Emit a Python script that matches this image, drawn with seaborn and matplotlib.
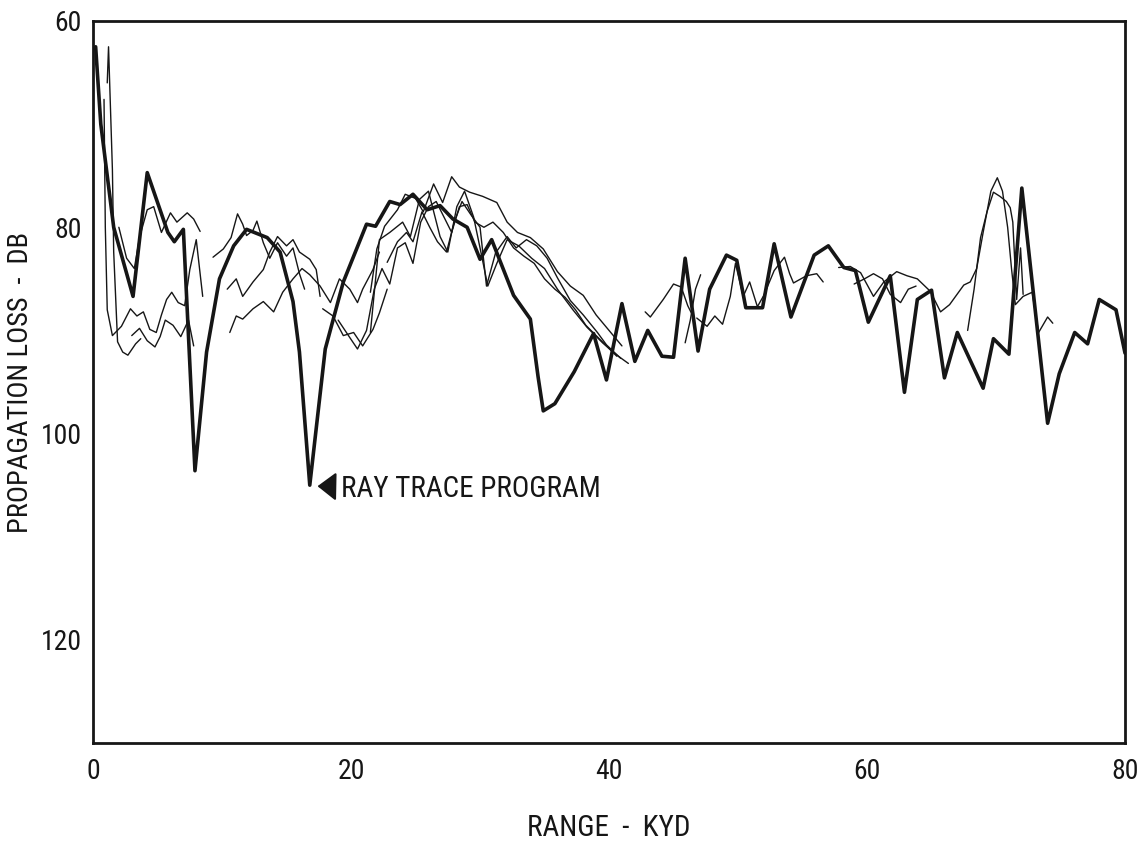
import numpy as np
import pandas as pd
import matplotlib
matplotlib.use("Agg")
import matplotlib.pyplot as plt
import seaborn as sns

# ray trace program (heavy line)
ray_x = [0.2, 0.6, 0.9, 1.6, 3.1, 4.2, 5.8, 6.3, 7.0, 7.9, 8.8, 9.8, 10.9, 11.9, 13.5,
         14.5, 15.5, 16.0, 16.8, 18.0, 19.4, 21.2, 21.9, 23.0, 23.8, 24.8, 25.9, 26.9,
         27.9, 29.0, 30.0, 30.9, 32.6, 33.9, 34.5, 34.9, 35.8, 37.3, 38.8, 39.8, 41.0,
         42.0, 43.0, 44.1, 45.0, 45.9, 46.9, 47.8, 49.1, 49.9, 50.6, 51.9, 52.8, 54.1,
         55.9, 57.0, 58.2, 59.1, 60.1, 61.8, 62.9, 63.9, 65.0, 66.0, 67.0, 69.0, 69.8,
         71.0, 72.0, 74.0, 74.9, 76.1, 77.1, 78.0, 79.3, 80.0]
ray_db = [62.5, 70.0, 73.0, 80.0, 86.7, 74.7, 80.5, 81.4, 80.2, 103.6, 92.1, 85.0, 81.8,
          80.2, 81.0, 82.4, 87.2, 92.1, 105.0, 91.8, 85.3, 79.7, 79.9, 77.5, 77.8, 76.8,
          78.3, 77.9, 79.2, 80.0, 83.1, 81.2, 86.6, 88.9, 94.5, 97.8, 97.1, 94.0, 90.3,
          94.8, 87.4, 93.0, 90.0, 92.5, 92.6, 83.0, 92.0, 86.0, 82.7, 83.2, 87.8, 87.8,
          81.6, 88.7, 82.7, 81.8, 83.9, 84.2, 89.2, 84.7, 96.0, 87.0, 86.1, 94.6, 90.2,
          95.6, 90.8, 92.3, 76.2, 99.0, 94.2, 90.2, 91.3, 87.0, 88.0, 92.2]

# measured runs (light lines), traced piece by piece
seg1_x = [1.1, 1.2, 1.5, 1.6, 1.9, 2.3, 2.7, 3.3, 3.7]
seg1_db = [66.0, 62.5, 74.4, 82.4, 91.1, 92.1, 92.4, 91.3, 90.8]
seg2_x = [0.85, 0.95, 1.1, 1.5, 2.2, 2.9, 3.4, 3.9, 4.4, 4.9, 5.3, 5.7, 6.1, 6.6, 7.1,
          7.5, 8.0, 8.5]
seg2_db = [67.6, 80.0, 88.0, 90.5, 89.6, 87.9, 88.6, 88.2, 89.9, 90.2, 88.5, 87.0, 86.3,
           87.3, 87.6, 84.1, 81.2, 86.7]
seg3_x = [2.0, 2.6, 3.2, 3.6, 4.2, 4.7, 5.3, 6.0, 6.5, 7.3, 7.8, 8.3]
seg3_db = [80.0, 83.0, 84.0, 81.0, 78.3, 78.0, 80.5, 78.6, 79.5, 78.6, 79.2, 80.4]
seg4_x = [3.0, 3.6, 4.2, 4.8, 5.2, 5.6, 6.2, 6.8, 7.4, 7.8]
seg4_db = [90.5, 89.8, 91.0, 91.6, 90.6, 89.0, 89.5, 90.6, 89.0, 91.5]
seg5_x = [9.3, 10.1, 10.7, 11.2, 11.6, 11.9, 12.4, 12.7, 13.2, 13.7, 14.3, 15.0, 15.5,
          16.0, 16.4]
seg5_db = [82.9, 82.1, 81.0, 78.7, 79.7, 80.8, 80.3, 79.4, 81.5, 83.0, 81.5, 82.8, 82.0,
           84.5, 86.0]
seg6_x = [10.4, 11.1, 11.6, 12.4, 13.2, 13.7, 14.3, 15.0, 15.5, 16.0, 16.8, 17.3, 17.6]
seg6_db = [86.0, 85.0, 86.7, 85.3, 84.1, 82.4, 80.9, 81.8, 81.2, 82.4, 83.1, 84.1, 86.7]
seg7_x = [10.6, 11.1, 11.6, 12.4, 13.2, 14.0, 14.7, 15.5, 16.2, 16.8, 17.6, 18.4, 19.1,
          19.9, 20.5, 20.9, 21.7, 22.2]
seg7_db = [90.2, 88.6, 88.9, 87.9, 87.2, 88.2, 86.3, 85.0, 84.0, 84.6, 85.7, 87.3, 85.0,
           86.0, 87.3, 86.0, 84.1, 82.4]
seg8_x = [17.8, 18.6, 19.4, 20.2, 20.9, 21.7, 22.2, 22.8]
seg8_db = [87.9, 88.6, 90.5, 90.2, 91.5, 89.9, 88.3, 86.0]
hump1_x = [21.5, 22.0, 22.6, 23.6, 24.2, 25.0, 25.6, 26.4, 27.1, 27.8, 28.4, 29.2, 30.2,
           31.3, 32.1, 32.9, 33.9, 34.9, 36.0, 37.0, 38.0, 39.0, 40.0, 41.0]
hump1_db = [86.3, 82.1, 79.9, 78.3, 76.8, 77.2, 78.5, 75.8, 77.6, 75.1, 76.1, 76.6, 77.0,
            77.6, 79.5, 80.5, 81.0, 82.1, 84.3, 85.7, 86.6, 88.5, 90.0, 91.5]
hump2_x = [22.8, 23.6, 24.3, 24.8, 25.5, 26.1, 26.7, 27.4, 28.0, 28.6, 29.3, 30.0, 30.5,
           31.2, 32.1, 32.8, 33.6, 34.4, 35.2, 36.0, 37.0, 38.0, 39.1, 39.8, 40.9]
hump2_db = [83.4, 81.4, 80.5, 81.4, 78.5, 80.0, 81.4, 82.4, 79.5, 77.5, 78.8, 80.0, 85.7,
            82.5, 80.9, 82.0, 81.2, 81.8, 83.0, 84.9, 87.1, 88.5, 90.2, 91.4, 92.7]
hump3_x = [21.5, 22.2, 23.0, 24.0, 24.6, 25.3, 26.0, 26.9, 27.5, 28.2, 28.8, 29.5, 30.0,
           30.6, 31.3, 32.1, 33.0, 34.0, 35.0, 36.0, 37.2, 38.3, 39.5, 40.5, 41.5]
hump3_db = [90.2, 81.2, 80.5, 79.5, 80.9, 77.3, 76.5, 80.9, 82.4, 78.0, 76.5, 79.0, 82.0,
            85.7, 83.5, 81.2, 81.8, 83.0, 84.0, 86.0, 88.0, 89.7, 91.2, 92.3, 93.2]
hump4_x = [19.0, 19.8, 20.5, 21.2, 21.8, 22.4, 23.0, 23.6, 24.2, 24.8, 25.4, 26.0, 26.6,
           27.2, 27.8, 28.4, 29.0, 29.6, 30.3, 31.0, 31.8, 32.6, 33.4, 34.2, 35.0, 35.8,
           36.6, 37.4, 38.2, 39.0, 39.8, 40.6]
hump4_db = [89.0, 90.5, 91.8, 90.0, 86.0, 84.0, 85.5, 82.0, 81.5, 83.5, 79.5, 78.0, 77.5,
            79.0, 80.5, 78.0, 77.8, 79.5, 80.0, 79.5, 80.5, 82.0, 82.8, 83.5, 85.0, 86.0,
            86.8, 88.0, 89.5, 90.5, 91.5, 92.5]
far1_x = [42.8, 43.2, 44.2, 45.0, 45.6, 46.1, 46.5]
far1_db = [88.2, 88.7, 87.0, 85.5, 85.8, 87.6, 88.6]
far2_x = [45.9, 46.3, 46.7, 47.1]
far2_db = [91.2, 89.0, 86.0, 84.6]
far3_x = [46.8, 47.6, 48.2, 48.8, 49.4, 49.8, 50.4, 50.9, 51.5, 52.0, 52.8, 53.6, 54.0,
          54.3, 55.3, 56.1, 56.6]
far3_db = [88.8, 89.6, 88.6, 89.4, 86.7, 83.5, 86.7, 85.3, 87.7, 86.6, 84.2, 82.9, 84.5,
           85.4, 84.7, 84.5, 85.3]
far4_x = [57.8, 58.7, 59.5, 60.5, 61.3, 62.3, 63.1, 63.9, 64.9, 65.7, 66.4, 67.5, 68.0,
          68.5, 69.0, 69.6, 70.1, 70.5, 70.9, 71.2, 71.5, 72.1, 72.8, 73.3, 74.0, 74.4]
far4_db = [83.9, 83.8, 84.4, 86.7, 85.3, 84.3, 84.7, 85.0, 86.2, 88.2, 87.5, 85.6, 85.3,
           84.0, 80.5, 76.5, 75.2, 76.5, 80.0, 84.0, 87.5, 86.7, 86.3, 90.2, 88.7, 89.3]
far5_x = [67.8, 68.3, 68.8, 69.3, 69.8, 70.3, 70.8, 71.1, 71.3, 71.6, 71.9, 72.1]
far5_db = [90.0, 86.0, 81.0, 78.5, 76.6, 77.0, 77.5, 78.1, 79.5, 87.0, 82.0, 86.5]
far6_x = [59.0, 59.8, 60.5, 61.2, 61.8, 62.6, 63.2, 63.8]
far6_db = [85.5, 85.0, 84.5, 85.0, 86.5, 87.3, 86.0, 85.7]

thin_segments = [(seg1_x, seg1_db), (seg2_x, seg2_db), (seg3_x, seg3_db), (seg4_x, seg4_db),
                 (seg5_x, seg5_db), (seg6_x, seg6_db), (seg7_x, seg7_db), (seg8_x, seg8_db),
                 (hump1_x, hump1_db), (hump2_x, hump2_db), (hump3_x, hump3_db),
                 (hump4_x, hump4_db), (far1_x, far1_db), (far2_x, far2_db),
                 (far3_x, far3_db), (far4_x, far4_db), (far5_x, far5_db), (far6_x, far6_db)]

rows = []
for k, (xs, ys) in enumerate(thin_segments):
    for xv, yv in zip(xs, ys):
        rows.append({"range": xv, "loss": yv, "seg": k})
thin_df = pd.DataFrame(rows)
ray_df = pd.DataFrame({"range": ray_x, "loss": ray_db})

sns.set_style("white")
plt.rcParams['font.family'] = ['Roboto Condensed', 'Archivo Narrow', 'PT Sans Narrow',
                               'IBM Plex Sans Condensed', 'Fira Sans Condensed',
                               'Liberation Sans Narrow', 'DejaVu Sans']
ink = "#161616"

fig = plt.figure(figsize=(11.46, 8.43), dpi=100)
ax = fig.add_axes([0.0812, 0.1186, 0.9005, 0.8565])

sns.lineplot(data=thin_df, x="range", y="loss", units="seg", estimator=None, sort=False,
             color=ink, lw=1.0, ax=ax)
sns.lineplot(data=ray_df, x="range", y="loss", sort=False, color=ink, lw=2.6, ax=ax)

ax.set_xlim(0, 80)
ax.set_ylim(130, 60)
ax.set_xticks([0, 20, 40, 60, 80])
ax.set_xticks([10, 30, 50, 70], minor=True)
ax.set_yticks([60, 80, 100, 120])
ax.set_yticks([70, 90, 110], minor=True)
ax.tick_params(which="both", direction="in", length=13, width=1.8, color=ink,
               labelsize=20, labelcolor=ink)
ax.tick_params(axis="x", which="both", pad=11)
ax.tick_params(axis="y", which="both", pad=8)
for sp in ax.spines.values():
    sp.set_linewidth(2.0)
    sp.set_color(ink)

ax.set_xlabel("RANGE  -  KYD", fontsize=21, color=ink, labelpad=21)
ax.set_ylabel("PROPAGATION LOSS  -  DB", fontsize=20.5, color=ink, labelpad=5)

ax.annotate("RAY TRACE PROGRAM", xy=(17.4, 105.1), xytext=(19.2, 105.4),
            ha="left", va="center", fontsize=21, color=ink,
            arrowprops=dict(arrowstyle="-|>,head_length=0.55,head_width=0.42",
                            color=ink, lw=1.5, shrinkA=2, shrinkB=0))

fig.savefig("out.png", dpi=100, facecolor="white")
